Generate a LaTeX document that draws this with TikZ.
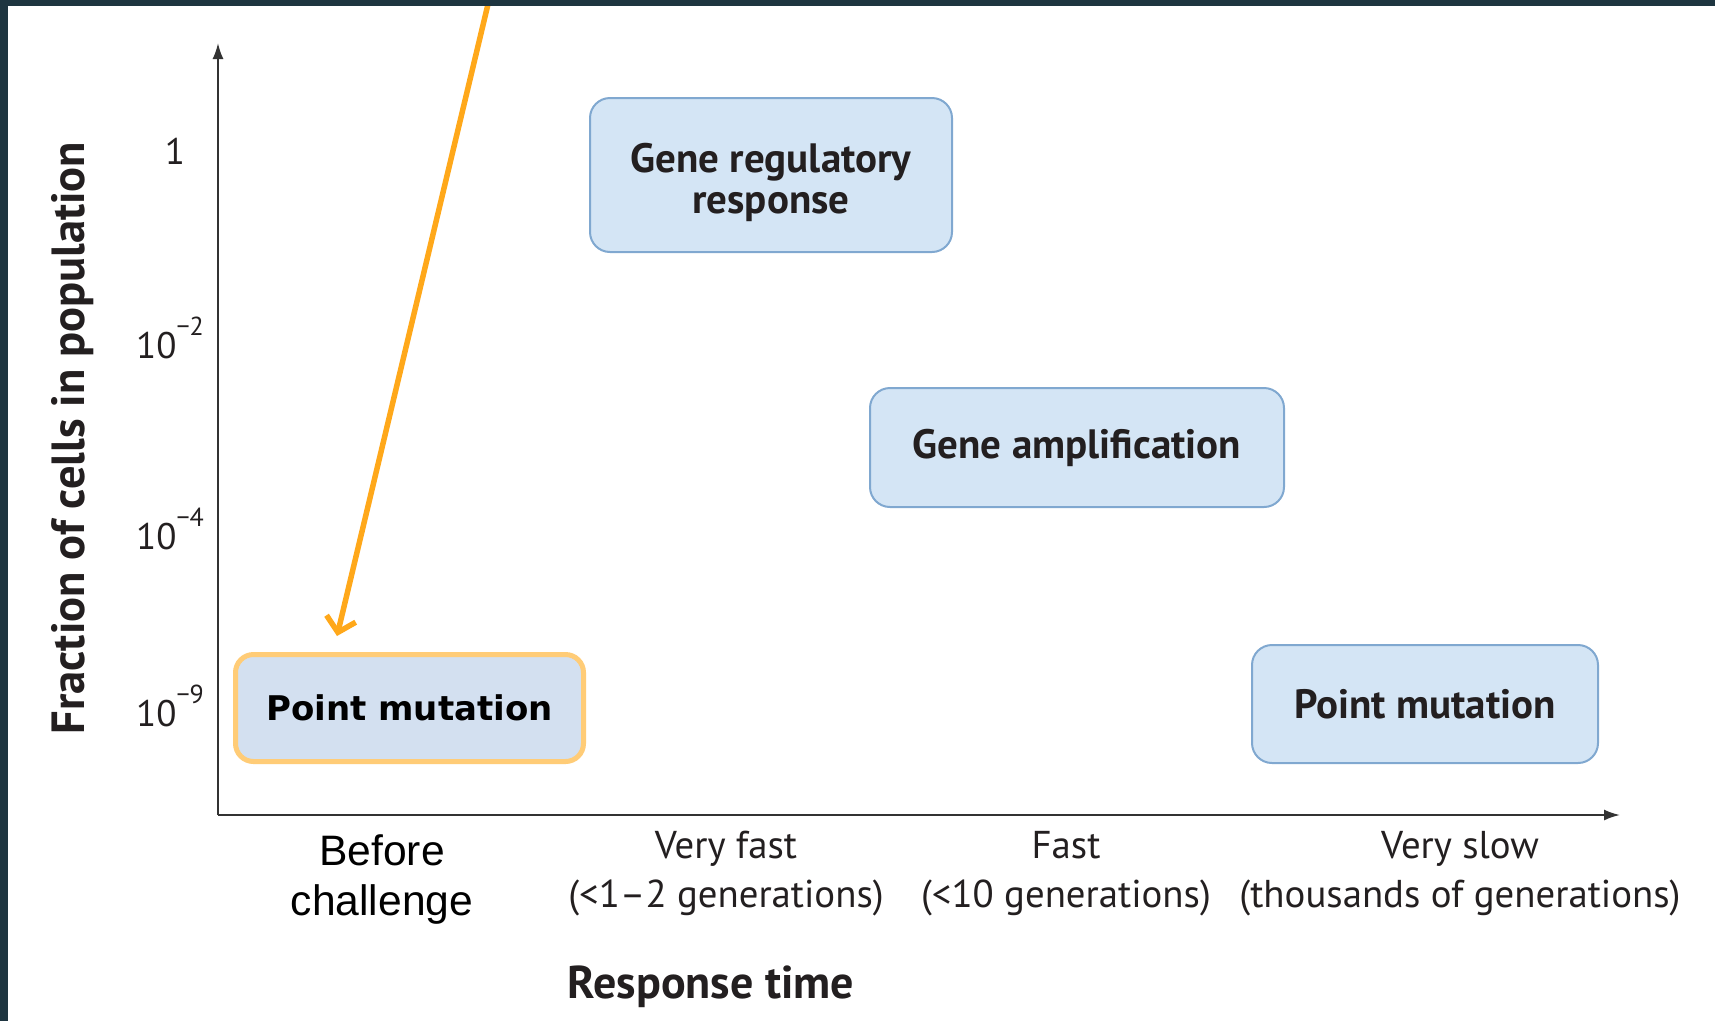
\documentclass[tikz,border=0pt]{standalone}
\usepackage{fontspec}
\usetikzlibrary{arrows.meta}
\newfontfamily\myr{PT Sans}
\newfontfamily\dvs{DejaVu Sans}
\newfontfamily\arl{Liberation Sans}
\definecolor{frame}{HTML}{1E3540}
\definecolor{boxfill}{HTML}{D4E5F5}
\definecolor{boxline}{HTML}{80A8D0}
\definecolor{hlfill}{HTML}{D3E0F0}
\definecolor{hlline}{HTML}{FFCC77}
\definecolor{orng}{HTML}{FFA81A}
\definecolor{axis}{HTML}{333333}
\definecolor{txt}{HTML}{231F20}
\tikzset{
  regbox/.style={rounded corners=20pt, fill=boxfill, draw=boxline, line width=2pt, align=center,
    text=txt, font=\myr\bfseries\fontsize{41}{42}\selectfont, inner sep=0pt},
  hlbox/.style={rounded corners=18pt, fill=hlfill, draw=hlline, line width=5pt, align=center,
    text=black, font=\dvs\bfseries\fontsize{34}{40}\selectfont, inner sep=0pt},
  ticklab/.style={text=txt, font=\myr\fontsize{37}{40}\selectfont, inner sep=0pt},
  xlab/.style={text=txt, font=\myr\fontsize{38.8}{49}\selectfont, align=center, inner sep=0pt},
  axisline/.style={draw=axis, line width=2pt}
}
\begin{document}
\begin{tikzpicture}[x=1pt, y=-1pt]
\useasboundingbox (0,0) rectangle (1715,1021);
\fill[white] (0,0) rectangle (1715,1021);

% axes
\coordinate (org) at (218,815);
\coordinate (ytop) at (218,43);
\coordinate (xend) at (1620,815);
\draw[axisline, -{Latex[length=16pt,width=11pt]}] (org) -- (ytop);
\draw[axisline, -{Latex[length=16pt,width=11pt]}] (org) -- (xend);

% tick labels
\node[ticklab] (t1) at (175,151) {1};
\node[ticklab] (t2) at (170,338) {10\raisebox{0.6em}{\fontsize{26}{26}\selectfont −2}};
\node[ticklab] (t4) at (170,529) {10\raisebox{0.6em}{\fontsize{26}{26}\selectfont −4}};
\node[ticklab] (t9) at (170,706) {10\raisebox{0.6em}{\fontsize{26}{26}\selectfont −9}};

% y label
\node[rotate=90, text=txt, font=\myr\bfseries\fontsize{46.5}{48}\selectfont, inner sep=0pt] (ylab) at (73,438) {Fraction of cells in population};

% boxes
\node[regbox, minimum width=362pt, minimum height=154pt] (grr) at (771,175) {\raisebox{-10pt}[\height][\depth]{\begin{tabular}{@{}c@{}}Gene regulatory\\[-1pt]response\end{tabular}}};
\node[regbox, minimum width=414pt, minimum height=119pt] (gamp) at (1077,447.5) {Gene amplification};
\node[regbox, minimum width=346pt, minimum height=118pt] (rpm) at (1425,704) {Point mutation};
\node[hlbox, minimum width=348pt, minimum height=107pt] (lpm) at (409.5,708) {Point mutation};

% x labels
\node[text=black, font=\arl\fontsize{42.6}{50}\selectfont, align=center, inner sep=0pt] (bc) at (382,879) {Before\\challenge};
\node[xlab] (vf) at (726,874) {Very fast\\(<1–2 generations)};
\node[xlab] (fa) at (1066,874) {Fast\\(<10 generations)};
\node[xlab] (vs) at (1460,874) {Very slow\\(thousands of generations)};
\node[text=txt, font=\myr\bfseries\fontsize{46}{48}\selectfont, inner sep=0pt] (rt) at (711,987) {Response time};

% orange arrow
\coordinate (astart) at (489,0);
\draw[orng, line width=5.5pt, -{Straight Barb[length=14pt,width=30pt,line width=5.5pt]}] (astart) -- ([xshift=-72.5pt,yshift=16pt]lpm.north);

% frame
\fill[frame] (0,0) rectangle (1715,6);
\fill[frame] (0,0) rectangle (8,1021);
\end{tikzpicture}
\end{document}
